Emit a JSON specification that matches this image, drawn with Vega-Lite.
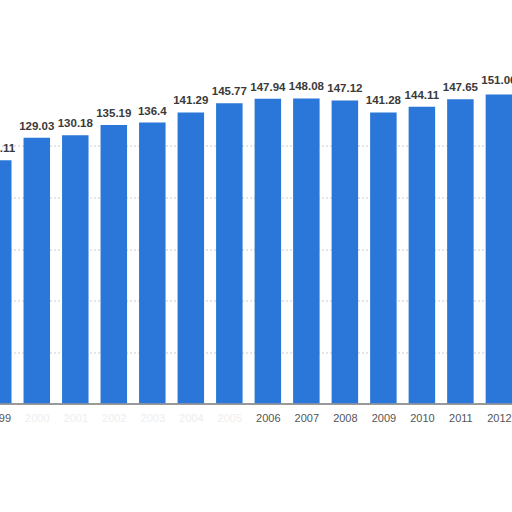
{
  "$schema": "https://vega.github.io/schema/vega-lite/v6.json",
  "autosize": "none",
  "width": 514.5,
  "height": 309,
  "padding": {"top": 94.5, "left": -2.5, "right": 0, "bottom": 108.5},
  "background": "white",
  "config": {"view": {"stroke": null}, "font": "Liberation Sans"},
  "data": {
    "values": [
      {"Year": 1999, "Value": 118.11},
      {"Year": 2000, "Value": 129.03},
      {"Year": 2001, "Value": 130.18},
      {"Year": 2002, "Value": 135.19},
      {"Year": 2003, "Value": 136.4},
      {"Year": 2004, "Value": 141.29},
      {"Year": 2005, "Value": 145.77},
      {"Year": 2006, "Value": 147.94},
      {"Year": 2007, "Value": 148.08},
      {"Year": 2008, "Value": 147.12},
      {"Year": 2009, "Value": 141.28},
      {"Year": 2010, "Value": 144.11},
      {"Year": 2011, "Value": 147.65},
      {"Year": 2012, "Value": 151.06}
    ]
  },
  "encoding": {
    "x": {
      "field": "Year",
      "type": "quantitative",
      "scale": {"domain": [1998.98, 2012.34], "nice": false, "zero": false, "padding": 0},
      "axis": {
        "title": null,
        "values": [1999, 2000, 2001, 2002, 2003, 2004, 2005, 2006, 2007, 2008, 2009, 2010, 2011, 2012],
        "format": "d",
        "grid": false,
        "ticks": false,
        "domainColor": "#777777",
        "domainWidth": 1.5,
        "labelFlush": false,
        "labelOverlap": false,
        "labelPadding": 9,
        "labelFontSize": 11,
        "labelColor": {
          "condition": {"test": "datum.value > 1999.5 && datum.value < 2005.5", "value": "#eeeeee"},
          "value": "#555555"
        }
      }
    },
    "y": {
      "field": "Value",
      "type": "quantitative",
      "scale": {"domain": [0, 150], "nice": false},
      "axis": {
        "title": null,
        "values": [25, 50, 75, 100, 125],
        "labels": false,
        "ticks": false,
        "domain": false,
        "gridColor": "#cccccc",
        "gridDash": [2, 2]
      }
    }
  },
  "layer": [
    {
      "mark": {"type": "bar", "size": 26.5, "color": "#2a77d9", "clip": true}
    },
    {
      "mark": {
        "type": "text",
        "baseline": "bottom",
        "dy": -6,
        "fontSize": 11.5,
        "fontWeight": "bold",
        "color": "#3a3a3a"
      },
      "encoding": {
        "text": {"field": "Value", "type": "quantitative", "format": ".5~r"}
      }
    }
  ]
}
